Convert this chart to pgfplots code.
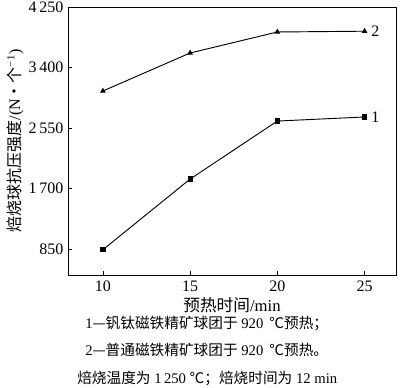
\documentclass[border=0pt]{standalone}
\usepackage{pgfplots}
\pgfplotsset{compat=1.18}
\usepackage{fontspec}
\setmainfont{Liberation Serif}
\newfontfamily\cjk{Noto Sans CJK SC}
\begin{document}
\begin{tikzpicture}
\useasboundingbox (-51pt,-84pt) rectangle (249pt,206.25pt);
\begin{axis}[
  at={(0,0)}, anchor=south west,
  scale only axis, width=246pt, height=201pt,
  xmin=8, xmax=26.8, ymin=485, ymax=4250,
  xtick={10,15,20,25}, ytick={850,1700,2550,3400,4250},
  tick align=inside, xtick pos=bottom, ytick pos=left,
  major tick length=3pt,
  /pgf/number format/assume math mode=true,
  /pgf/number format/1000 sep={\,},
  tick label style={font=\fontsize{12}{14}\selectfont},
  xticklabel style={yshift=-1pt},
  axis line style={line width=0.6pt},
  every tick/.style={black, line width=0.5pt},
]
\addplot[black, line width=0.7pt, mark=square*, mark size=1.6pt] coordinates {
  (10,840) (15,1833) (20,2648) (25,2705)
};
\addplot[black, line width=0.7pt, mark=triangle*, mark size=1.8pt] coordinates {
  (10,3070) (15,3604) (20,3899) (25,3910)
};
\node[anchor=west, inner sep=1pt, font=\fontsize{12}{14}\selectfont] at (axis cs:25.3,2705) {1};
\node[anchor=west, inner sep=1pt, font=\fontsize{12}{14}\selectfont] at (axis cs:25.3,3910) {2};
\end{axis}
\node[font=\fontsize{12.5}{14}\selectfont] at (123pt,-22.5pt) {{\cjk 预热时间}/min};
\node[rotate=90, font=\fontsize{12}{14}\selectfont] at (-39.75pt,100.5pt) {{\cjk 焙烧球抗压强度}/(N{\cjk ·个}\textsuperscript{−1})};
\begin{scope}[every node/.style={anchor=west, inner sep=0pt, font=\fontsize{11}{13}\selectfont}]
\node at (12.75pt,-36pt) {1{\cjk —钒钛磁铁精矿球团于} 920\, {\cjk ℃预热；}};
\node at (12.75pt,-56.25pt) {2{\cjk —普通磁铁精矿球团于} 920\, {\cjk ℃预热。}};
\node at (6.75pt,-77.5pt) {{\cjk 焙烧温度为} 1\,250 {\cjk ℃；焙烧时间为} 12 min};
\end{scope}
\end{tikzpicture}
\end{document}
